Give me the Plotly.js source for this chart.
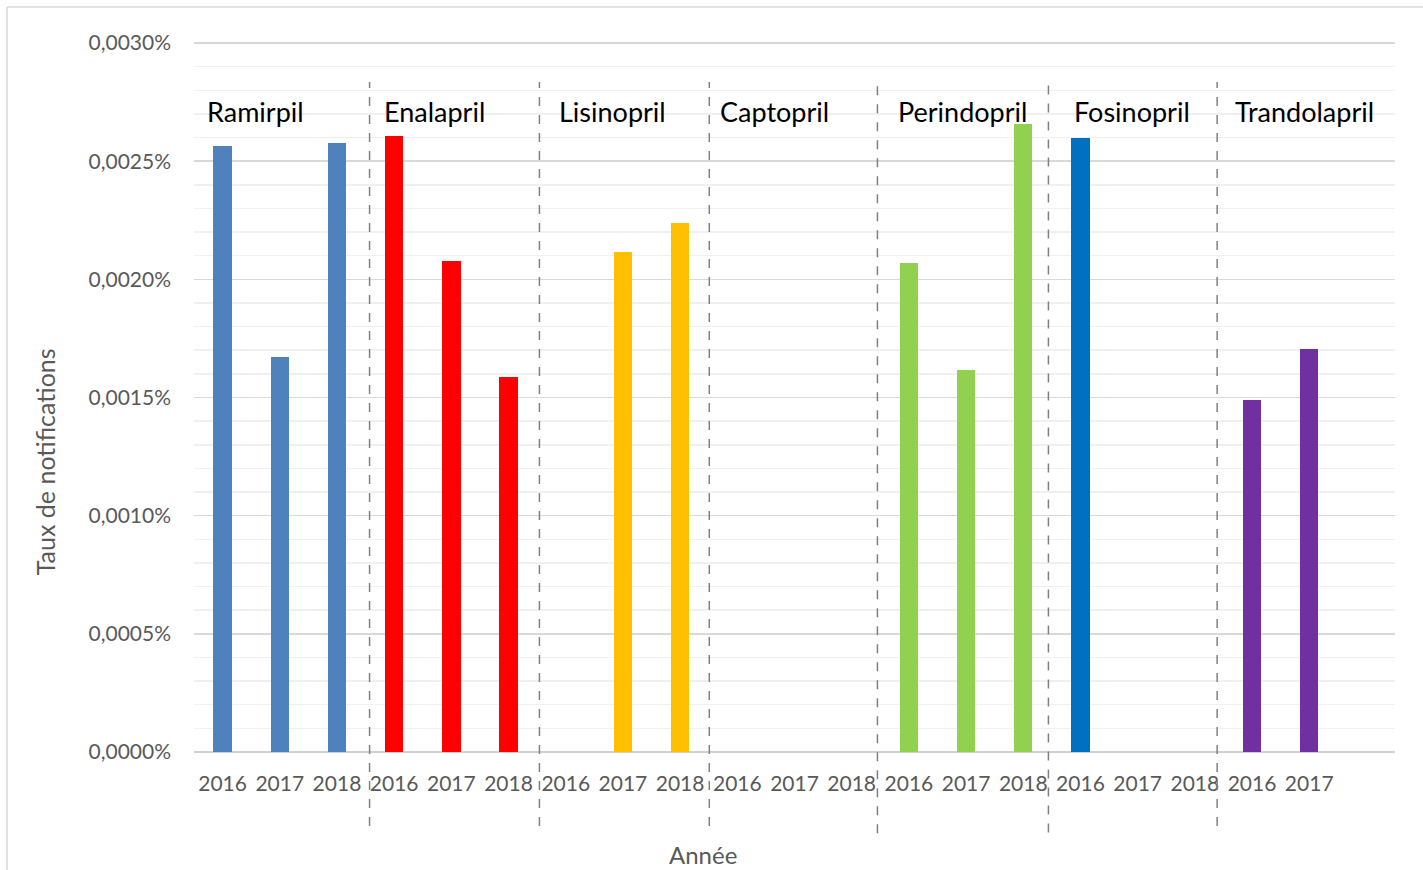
<!DOCTYPE html>
<html>
<head>
<meta charset="utf-8">
<script src="https://cdn.plot.ly/plotly-3.0.1.min.js"></script>
<style>
  html, body { margin: 0; padding: 0; background: #ffffff; }
  #chart { width: 1423px; height: 870px; }
</style>
</head>
<body>
<div id="chart"></div>
<script>
// ---- Data (in %) ----
const drugs = ['Ramirpil', 'Enalapril', 'Lisinopril', 'Captopril', 'Perindopril', 'Fosinopril', 'Trandolapril'];
const years = ['2016', '2017', '2018'];
const ramirpil     = [0.002565, 0.001672, 0.002577];
const enalapril    = [0.002607, 0.002078, 0.001587];
const lisinopril   = [0, 0.002116, 0.002239];
const captopril    = [0, 0, 0];
const perindopril  = [0.002069, 0.001617, 0.002658];
const fosinopril   = [0.002598, 0, 0];
const trandolapril = [0.001490, 0.001705];
const tickYears = ['2016','2017','2018','2016','2017','2018','2016','2017','2018','2016','2017','2018',
                   '2016','2017','2018','2016','2017','2018','2016','2017',''];
const xTitle = 'Année';
const yTitle = 'Taux de notifications';

const seriesValues = [ramirpil, enalapril, lisinopril, captopril, perindopril, fosinopril, trandolapril];
const colors = ['#4F81BD', '#FF0000', '#FFC000', '#A5A5A5', '#92D050', '#0070C0', '#7030A0'];

// ---- Traces ----
const traces = drugs.map((name, g) => ({
  type: 'bar',
  name: name,
  x: seriesValues[g].map((v, j) => g * 3 + j),
  y: seriesValues[g],
  width: 0.32,
  marker: { color: colors[g], line: { width: 0 } },
  hoverinfo: 'name+y',
  showlegend: false
}));

// ---- Layout helpers ----
const labelX = [-0.30, 2.79, 5.85, 8.67, 11.77, 14.85, 17.67];
const sepX = [2.57, 5.54, 8.51, 11.45, 14.44, 17.39];
const sepBottom = [-0.104, -0.104, -0.104, -0.114, -0.113, -0.104];

const shapes = sepX.map((x, i) => ({
  type: 'line', xref: 'x', yref: 'paper',
  x0: x, x1: x, y0: sepBottom[i], y1: 0.941,
  line: { color: '#808080', width: 1.5, dash: 'dash' }
}));
// outer frame (left + top edges)
shapes.push({ type: 'line', xref: 'paper', yref: 'paper', x0: -0.1557, x1: -0.1557, y0: -0.2, y1: 1.0465,
  line: { color: '#d9d9d9', width: 1.5 } });
shapes.push({ type: 'line', xref: 'paper', yref: 'paper', x0: -0.1557, x1: 1.03, y0: 1.0465, y1: 1.0465,
  line: { color: '#d9d9d9', width: 1.5 } });

const annotations = drugs.map((name, g) => ({
  text: name, x: labelX[g], xref: 'x', xanchor: 'left',
  y: 0.90, yref: 'paper', yanchor: 'middle',
  showarrow: false,
  font: { family: 'Lato, sans-serif', size: 27, color: '#000000' }
}));
annotations.push({
  text: xTitle, xref: 'paper', yref: 'paper', x: 0.424, y: -0.144,
  xanchor: 'center', yanchor: 'middle', showarrow: false,
  font: { family: 'Lato, sans-serif', size: 24, color: '#595959' }
});
annotations.push({
  text: yTitle, xref: 'paper', yref: 'paper', x: -0.124, y: 0.407,
  xanchor: 'center', yanchor: 'middle', textangle: -90, showarrow: false,
  font: { family: 'Lato, sans-serif', size: 25, color: '#595959' }
});

const layout = {
  width: 1423, height: 870,
  margin: { l: 194, r: 28, t: 40, b: 118 },
  paper_bgcolor: '#ffffff', plot_bgcolor: '#ffffff',
  separators: ', ',
  font: { family: 'Lato, sans-serif', color: '#595959' },
  bargap: 0,
  xaxis: {
    range: [-0.5, 20.5],
    tickmode: 'array',
    tickvals: tickYears.map((t, i) => i),
    ticktext: tickYears,
    tickfont: { size: 21, color: '#595959' },
    ticks: '', showgrid: false, zeroline: false, showline: false,
    ticklabelstandoff: 17,
    fixedrange: true
  },
  yaxis: {
    range: [0, 0.0030127],
    tickmode: 'linear', tick0: 0, dtick: 0.0005,
    tickformat: '.4f', ticksuffix: '%',
    tickfont: { size: 21, color: '#595959' },
    showgrid: true, gridcolor: '#d9d9d9', gridwidth: 1.5,
    minor: { dtick: 0.0001, showgrid: true, gridcolor: '#f0f0f0', gridwidth: 1.5 },
    zeroline: true, zerolinecolor: '#d0d0d0', zerolinewidth: 2,
    showline: false, ticks: '',
    ticklabelstandoff: 22,
    fixedrange: true
  },
  shapes: shapes,
  annotations: annotations
};

Plotly.newPlot('chart', traces, layout, { displayModeBar: false, staticPlot: true });
</script>
</body>
</html>
